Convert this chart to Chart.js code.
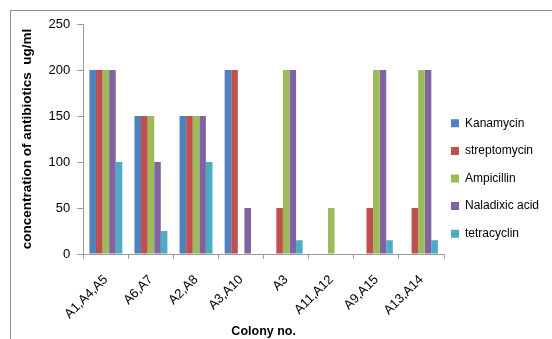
<!DOCTYPE html>
<html>
<head>
<meta charset="utf-8">
<script src="https://cdn.jsdelivr.net/npm/chart.js@4"></script>
<style>
  html, body { margin: 0; padding: 0; background: #ffffff; }
  #wrap { width: 552px; height: 339px; position: relative; }
</style>
</head>
<body>
<div id="wrap"><canvas id="c" width="552" height="339"></canvas></div>
<script>
// Colony groups on the x axis
const colonies = ["A1,A4,A5", "A6,A7", "A2,A8", "A3,A10", "A3", "A11,A12", "A9,A15", "A13,A14"];

// Resistance concentration (ug/ml) per antibiotic
const kanamycin    = [200, 150, 150, 200,   0,  0,   0,   0];
const streptomycin = [200, 150, 150, 200,  50,  0,  50,  50];
const ampicillin   = [200, 150, 150,   0, 200, 50, 200, 200];
const naladixic    = [200, 100, 150,  50, 200,  0, 200, 200];
const tetracyclin  = [100,  25, 100,   0,  15,  0,  15,  15];

const yTicks = [0, 50, 100, 150, 200, 250];

const FONT = "'Liberation Sans', Arial, sans-serif";
const LEGEND_PAD = 15.6;

// Thin grey frame around the whole chart
const framePlugin = {
  id: 'frame',
  beforeDraw(chart) {
    const ctx = chart.ctx;
    ctx.save();
    ctx.fillStyle = '#ffffff';
    ctx.fillRect(0, 0, chart.width, chart.height);
    ctx.strokeStyle = '#8f8f8f';
    ctx.lineWidth = 1;
    ctx.strokeRect(10.5, 10.5, 800, 600);
    ctx.restore();
  }
};

// Pull the legend in close to the plot while keeping roomy row spacing
const legendNudge = {
  id: 'legendNudge',
  afterLayout(chart) {
    const lg = chart.legend;
    if (!lg) return;
    const left = chart.chartArea.right + 7 - LEGEND_PAD;
    lg.left = left;
    lg.right = left + lg.width;
    lg.top -= 3;
    lg.bottom -= 3;
  }
};

function ds(label, data, color) {
  return { label, data, backgroundColor: color, borderWidth: 0,
           categoryPercentage: 0.73, barPercentage: 1.0 };
}

new Chart(document.getElementById('c'), {
  type: 'bar',
  data: {
    labels: colonies,
    datasets: [
      ds('Kanamycin', kanamycin, '#4F81BD'),
      ds('streptomycin', streptomycin, '#C0504D'),
      ds('Ampicillin', ampicillin, '#9BBB59'),
      ds('Naladixic acid', naladixic, '#8064A2'),
      ds('tetracyclin', tetracyclin, '#4BACC6')
    ]
  },
  options: {
    responsive: false,
    animation: false,
    layout: { padding: { top: 24, left: 16, right: 0, bottom: 0 } },
    plugins: {
      tooltip: { enabled: false },
      legend: {
        position: 'right',
        align: 'center',
        maxWidth: 108,
        labels: {
          boxWidth: 8, boxHeight: 8, padding: LEGEND_PAD,
          color: '#000', font: { family: FONT, size: 12 }
        }
      }
    },
    scales: {
      x: {
        grid: { drawOnChartArea: false, offset: true, tickLength: 5, color: '#999' },
        border: { color: '#999' },
        ticks: { minRotation: 45, maxRotation: 45, color: '#000', padding: 13,
                 font: { family: FONT, size: 13 } },
        title: { display: true, text: 'Colony no.', color: '#000',
                 font: { family: FONT, size: 12.5, weight: 'bold' }, padding: { top: 2, bottom: 0 } },
        afterFit(scale) { scale.height = 85; }
      },
      y: {
        min: 0, max: 250,
        afterBuildTicks(scale) { scale.ticks = yTicks.map(v => ({ value: v })); },
        grid: { drawOnChartArea: false, tickLength: 6, color: '#999' },
        border: { color: '#999' },
        ticks: { color: '#000', padding: 7, font: { family: FONT, size: 13 } },
        title: { display: true, text: 'concentration of antibiotics  ug/ml', color: '#000',
                 font: { family: FONT, size: 13.5, weight: 'bold' }, padding: { top: 3.5, bottom: 4 } },
        afterFit(scale) { scale.width = 83.3 - 16; }
      }
    }
  },
  plugins: [framePlugin, legendNudge]
});
</script>
</body>
</html>
